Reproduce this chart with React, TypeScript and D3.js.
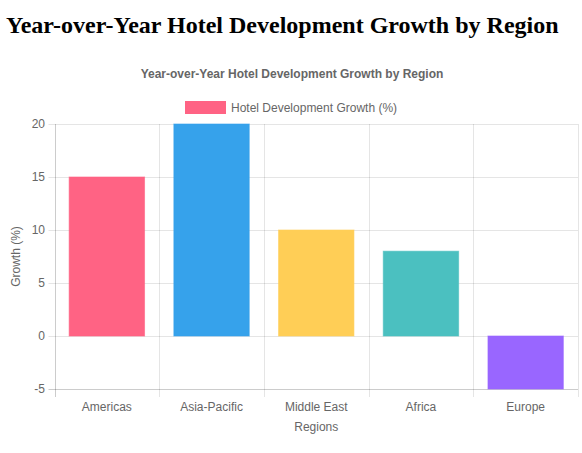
import React from "react";
import * as d3 from "d3";

const categories = ["Americas", "Asia-Pacific", "Middle East", "Africa", "Europe"];
const growth = [15, 20, 10, 8, -5];
const colors = ["#FF6384", "#36A2EB", "#FFCE56", "#4BC0C0", "#9966FF"];
const yTicks = [-5, 0, 5, 10, 15, 20];
const seriesLabel = "Hotel Development Growth (%)";
const pageTitle = "Year-over-Year Hotel Development Growth by Region";

const W = 582, H = 453;
const left = 54.5, right = 578, top = 124, bottom = 389;
const font = "'Liberation Sans', Arial, Helvetica, sans-serif";
const txt = "#666";
const grid = "rgba(0,0,0,0.1)";

export default function App() {
  const x = d3.scaleBand<string>().domain(categories).range([left, right]).paddingInner(0).paddingOuter(0);
  const y = d3.scaleLinear().domain([-5, 20]).range([bottom, top]);
  const bw = x.bandwidth() * 0.72;
  const bands = categories.map((c) => x(c) as number);
  const gridXs = [...bands, right];

  return (
    <svg width={W} height={H} style={{ position: "absolute", left: 0, top: 0 }} xmlns="http://www.w3.org/2000/svg">
      <rect width={W} height={H} fill="#fff" />
      <text x={6} y={33} fontFamily="'Liberation Serif', 'Times New Roman', serif" fontWeight="bold" fontSize={24} fill="#000">
        {pageTitle}
      </text>
      <text x={292} y={78} textAnchor="middle" fontFamily={font} fontWeight="bold" fontSize={12} fill={txt}>
        {pageTitle}
      </text>
      <rect x={185.5} y={101.5} width={40} height={12} fill={colors[0]} stroke={colors[0]} />
      <text x={231} y={111.5} fontFamily={font} fontSize={12} fill={txt}>{seriesLabel}</text>

      {gridXs.map((gx, i) => (
        <line key={"vx" + i} x1={Math.round(gx) + 0.5} x2={Math.round(gx) + 0.5} y1={top} y2={bottom + 8}
          stroke={i === 0 ? "rgba(0,0,0,0.2)" : grid} strokeWidth={1} />
      ))}
      {yTicks.map((t) => (
        <line key={"hy" + t} x1={left - 6} x2={right} y1={Math.round(y(t)) + 0.5} y2={Math.round(y(t)) + 0.5}
          stroke={t === -5 ? "rgba(0,0,0,0.2)" : grid} strokeWidth={1} />
      ))}
      {yTicks.map((t) => (
        <text key={"yl" + t} x={45} y={y(t) + 4} textAnchor="end" fontFamily={font} fontSize={12} fill={txt}>{t}</text>
      ))}

      {categories.map((c, i) => {
        const v = growth[i];
        const bx = (x(c) as number) + (x.bandwidth() - bw) / 2;
        const y0 = y(0), y1 = y(v);
        return (
          <rect key={c} x={bx} y={Math.min(y0, y1)} width={bw} height={Math.abs(y1 - y0)}
            fill={colors[i]} stroke={colors[i]} strokeOpacity={0.6} strokeWidth={1} />
        );
      })}

      {categories.map((c) => (
        <text key={"xl" + c} x={(x(c) as number) + x.bandwidth() / 2} y={411} textAnchor="middle" fontFamily={font} fontSize={12} fill={txt}>{c}</text>
      ))}
      <text x={(left + right) / 2} y={431} textAnchor="middle" fontFamily={font} fontSize={12} fill={txt}>Regions</text>
      <text transform={`translate(20, ${(top + bottom) / 2}) rotate(-90)`} textAnchor="middle" fontFamily={font} fontSize={12} fill={txt}>Growth (%)</text>
    </svg>
  );
}
